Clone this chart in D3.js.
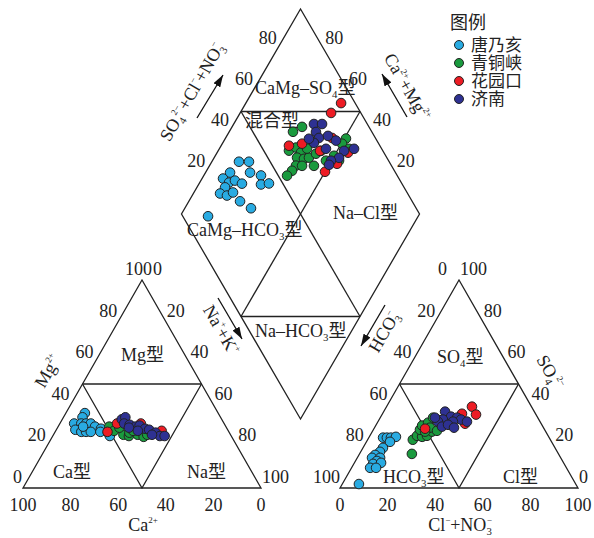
<!DOCTYPE html>
<html>
<head>
<meta charset="utf-8">
<script src="https://cdn.jsdelivr.net/npm/d3@7"></script>
<style>
  body { margin: 0; background: #fff; }
  svg text { font-family: "Liberation Serif", "Times New Roman", "Noto Sans CJK SC", serif; fill: #222; }
</style>
</head>
<body>
<script>
// series
const seriesNames = ['唐乃亥', '青铜峡', '花园口', '济南'];
const seriesColors = ['#29abe2', '#1a9a3e', '#ed1c24', '#2e3192'];

// cation triangle: [Ca%, Mg%]
const tangCation = [[56,36],[58,34],[63,31],[60,31],[58,31],[56,31],[55,29.5],[64,28],[62,27],[60,27],[58,27],[60,29.5],[53,28.5],[54,27],[51,26.5],[51,25]];
const qingCation = [[49,29.5],[48,27.5],[45,25.6],[43,25],[42,26.6],[39,25.6],[37,24.6],[35,25.6],[45,29],[40,27.5]];
const huaCation = [[45,31],[51,27],[35,31],[28,27.5]];
const jiCation = [[42,33],[40,34],[42,31],[40,30.4],[38,29.5],[36,30],[34.5,28.5],[33,28],[31,26.6],[30,25],[28,25],[41,29],[38,27.5],[33,25.6]];

// anion triangle: [Cl+NO3 %, SO4 %]
const tangAnion = [[6,24.2],[7.6,24.2],[9.3,24.2],[11.2,24.6],[9.9,22.2],[8.4,19.3],[8.1,17.4],[6.8,15.9],[6.2,14.5],[9.6,14.5],[9,13],[8.1,11.6],[11.2,12.1],[7.8,9.7],[10.3,9.7],[7,1.9]];
const qingAnion = [[22,16.4],[19,23.2],[19.8,25.1],[22.2,24.6],[24,25.1],[25.1,27.1],[19.6,28],[19.5,30],[21.3,31.4],[22.2,33.8],[24.3,32.9],[23.3,29],[27,27.5],[27,30.9],[22.2,27.1],[28.7,30.9]];
const huaAnion = [[21.5,28.5],[33.4,35.7],[35.9,39.1],[39.5,35.3],[37.1,30.9]];
const jiAnion = [[25.8,36.7],[29.5,34.3],[26.8,32.9],[25.2,31.9],[32.3,33.8],[34.4,32.9],[31.5,31.9],[28.1,29.5],[30.2,30.4],[33.4,29],[37.4,31.9],[23,33.8]];

// diamond: [Ca+Mg %, SO4+Cl+NO3 %]
const tangDiamond = [[88.6,36.9],[84.4,41.1],[81.3,38.9],[76,42.8],[89.7,30.5],[91.2,26.1],[87.7,27.6],[85.7,30.6],[82,32.8],[73.8,40.6],[70.7,44.2],[88.2,24.8],[88.8,21.2],[85.4,23.6],[83.6,26.9],[78.5,27.7],[72.2,30.6],[88.3,10.6]];
const qingDiamond = [[70.6,71.9],[73.2,66.9],[49.3,87.5],[49.7,84.6],[70.3,60.6],[68.1,64.3],[64.8,65.2],[65.2,62.3],[62,64.9],[60.2,67.3],[58.2,71.2],[63.7,59.9],[61.1,62.4],[56.1,67.4],[64.1,57],[65,53.7],[50.1,78.3],[45.5,86.3],[52.3,73.7],[56.8,74],[63.2,68.7],[46.8,79.2]];
const huaDiamond = [[60,94.1],[61.8,87.5],[71.5,61.8],[66.5,67.8],[57.2,73.6],[55.3,81.8],[45,84.9],[46.9,77.6],[50,70.6]];
const jiDiamond = [[66.3,77.6],[62.9,81],[63.5,76.5],[60.8,76.3],[57.5,80.6],[61.7,73],[55.2,76.6],[47.1,83.7],[43.4,88.4],[47.5,79.9],[50.2,75.8],[50,74],[64.8,71.9],[53,82.8]];

const ticks = [0, 20, 40, 60, 80, 100];
const diamondTicks = [20, 40, 60, 80];

const W = 594, H = 538;
const side = 238, hT = 208, baseY = 488, xL0 = 23, gap = 79;
const xR0 = xL0 + side + gap;
const dBot = { x: xL0 + side + gap / 2, y: 419 }, hD = 205;

const svg = d3.select('body').append('svg').attr('width', W).attr('height', H);

// scales
const sx = d3.scaleLinear().domain([0, 100]).range([0, side]);
const sy = d3.scaleLinear().domain([0, 100]).range([0, hT]);
const dx = d3.scaleLinear().domain([-100, 100]).range([-side / 2, side / 2]);
const dy = d3.scaleLinear().domain([0, 200]).range([0, 2 * hD]);

function cationXY(d) { const na = 100 - d[0] - d[1]; return [xL0 + sx(na + d[1] / 2), baseY - sy(d[1])]; }
function anionXY(d) { return [xR0 + sx(d[0] + d[1] / 2), baseY - sy(d[1])]; }
function diamondXY(d) { return [dBot.x + dx(d[1] - d[0]), dBot.y - dy(d[0] + d[1])]; }

const line = d3.line();
function path(pts, closed) {
  svg.append('path').attr('d', line(pts) + (closed ? 'Z' : ''))
    .attr('fill', 'none').attr('stroke', '#222').attr('stroke-width', 1.3)
    .attr('stroke-linejoin', 'miter');
}

// left triangle
const lA = [xL0, baseY], lB = [xL0 + side, baseY], lC = [xL0 + side / 2, baseY - hT];
path([lA, lB, lC], true);
path([cationXY([50, 50]), cationXY([0, 50])]);
path([cationXY([50, 50]), cationXY([50, 0]), cationXY([0, 50])]);

// right triangle
const rA = [xR0, baseY], rB = [xR0 + side, baseY], rC = [xR0 + side / 2, baseY - hT];
path([rA, rB, rC], true);
path([anionXY([0, 50]), anionXY([50, 50])]);
path([anionXY([0, 50]), anionXY([50, 0]), anionXY([50, 50])]);

// diamond
path([diamondXY([0, 0]), diamondXY([100, 0]), diamondXY([100, 100]), diamondXY([0, 100])], true);
path([diamondXY([100, 50]), diamondXY([50, 100])]);
path([diamondXY([50, 0]), diamondXY([0, 50])]);
path([diamondXY([100, 50]), diamondXY([0, 50])]);
path([diamondXY([50, 100]), diamondXY([50, 0])]);

// rich text helper: parts = [[text, 'n'|'sub'|'sup'], ...]
function rich(x, y, parts, opts) {
  opts = opts || {};
  const fs = opts.size || 18;
  const t = svg.append('text').attr('x', x).attr('y', y)
    .attr('font-size', fs).attr('text-anchor', opts.anchor || 'start');
  if (opts.rotate) t.attr('transform', `rotate(${opts.rotate},${x},${y})`);
  let shift = 0;
  parts.forEach(p => {
    const target = p[1] === 'sub' ? 4 : p[1] === 'sup' ? -8 : 0;
    const sp = t.append('tspan').text(p[0]).attr('dy', target - shift);
    if (p[1] !== 'n') sp.attr('font-size', p[1] === 'sub' ? fs * 0.6 : fs * 0.5);
    if (p[2]) sp.attr('dx', p[2]);
    shift = target;
  });
  return t;
}

// tick labels
const tl = (x, y, v, anchor) => svg.append('text').attr('x', x).attr('y', y)
  .attr('font-size', 18).attr('text-anchor', anchor).text(v);

ticks.forEach(v => {
  // Mg (left edge, left triangle)
  let p = [xL0 + sx(v / 2), baseY - sy(v)];
  tl(p[0] + (v === 100 ? 10 : -1), p[1] - 5, v, 'end');
  // Na+K (right edge, left triangle)
  p = [lC[0] + sx(v / 2), lC[1] + sy(v)];
  tl(p[0] + (v === 0 ? 11 : 1), p[1] - 5, v, 'start');
  // Ca (base)
  tl(xL0 + sx(100 - v), 511, v, 'middle');
  // HCO3 (left edge, right triangle)
  p = [rC[0] - sx(v / 2), rC[1] + sy(v)];
  tl(p[0] + (v === 0 ? -12 : 0), p[1] - 5, v, 'end');
  // SO4 (right edge, right triangle)
  p = [rB[0] - sx(v / 2), rB[1] - sy(v)];
  tl(p[0] + 1, p[1] - 5, v, 'start');
  // Cl+NO3 (base)
  tl(xR0 + sx(v), 511, v, 'middle');
});

diamondTicks.forEach(v => {
  let p = diamondXY([100, v]);
  tl(p[0], p[1] - 6, v, 'end');
  p = diamondXY([v, 100]);
  tl(p[0] + 1, p[1] - 6, v, 'start');
});

// region labels
rich(255, 94, [['CaMg–SO', 'n'], ['4', 'sub'], ['型', 'n']]);
rich(245, 127, [['混合型', 'n']]);
rich(187, 236, [['CaMg–HCO', 'n'], ['3', 'sub'], ['型', 'n']]);
rich(333, 219, [['Na–Cl型', 'n']]);
rich(255, 337, [['Na–HCO', 'n'], ['3', 'sub'], ['型', 'n']]);
rich(121, 361, [['Mg型', 'n']]);
rich(53, 478, [['Ca型', 'n']]);
rich(187, 478, [['Na型', 'n']]);
rich(437, 363, [['SO', 'n'], ['4', 'sub'], ['型', 'n']]);
rich(383, 483, [['HCO', 'n'], ['3', 'sub'], ['型', 'n']]);
rich(503, 483, [['Cl型', 'n']]);

// axis titles
rich(143, 531, [['Ca', 'n'], ['2+', 'sup']], { anchor: 'middle' });
rich(460, 531, [['Cl', 'n'], ['−', 'sup'], ['+NO', 'n'], ['3', 'sub'], ['−', 'sup', -5]], { anchor: 'middle' });
rich(53, 374, [['Mg', 'n'], ['2+', 'sup']], { anchor: 'middle', rotate: -60 });
rich(197, 95, [['SO', 'n'], ['4', 'sub'], ['2−', 'sup', -2], ['+Cl', 'n'], ['−', 'sup'], ['+NO', 'n'], ['3', 'sub'], ['−', 'sup', -5]], { anchor: 'middle', rotate: -60 });
rich(402, 90, [['Ca', 'n'], ['2+', 'sup'], ['+Mg', 'n'], ['2+', 'sup']], { anchor: 'middle', rotate: 60 });
rich(216, 333, [['Na', 'n'], ['+', 'sup'], ['+K', 'n'], ['+', 'sup']], { anchor: 'middle', rotate: 60 });
rich(389, 335, [['HCO', 'n'], ['3', 'sub'], ['−', 'sup', -5]], { anchor: 'middle', rotate: -60 });
rich(545, 375, [['SO', 'n'], ['4', 'sub'], ['2−', 'sup', -2]], { anchor: 'middle', rotate: 60 });

// arrows
svg.append('defs').append('marker').attr('id', 'arr')
  .attr('viewBox', '0 0 12 8').attr('refX', 12).attr('refY', 4)
  .attr('markerWidth', 12).attr('markerHeight', 8)
  .attr('markerUnits', 'userSpaceOnUse').attr('orient', 'auto')
  .append('path').attr('d', 'M0,0L12,4L0,8Z').attr('fill', '#111');
[[[197, 118], [223, 75]], [[407, 117], [382, 74]], [[218, 298], [242, 339]], [[385, 305], [361, 346]]]
  .forEach(a => svg.append('path').attr('d', line(a)).attr('stroke', '#111')
    .attr('stroke-width', 1.3).attr('marker-end', 'url(#arr)'));

// points
const pointSets = [
  [tangCation, tangAnion, tangDiamond],
  [qingCation, qingAnion, qingDiamond],
  [huaCation, huaAnion, huaDiamond],
  [jiCation, jiAnion, jiDiamond]
];
const fns = [cationXY, anionXY, diamondXY];
pointSets.forEach((sets, i) => {
  sets.forEach((data, k) => {
    svg.append('g').selectAll('circle').data(data).enter().append('circle')
      .attr('cx', d => fns[k](d)[0]).attr('cy', d => fns[k](d)[1])
      .attr('r', 4.8).attr('fill', seriesColors[i])
      .attr('stroke', '#222').attr('stroke-width', 1);
  });
});

// legend
svg.append('text').attr('x', 450).attr('y', 29).attr('font-size', 18).text('图例');
const lg = svg.append('g').selectAll('g').data(seriesNames).enter().append('g');
lg.append('circle').attr('cx', 459).attr('cy', (d, i) => 45 + i * 18).attr('r', 4.5)
  .attr('fill', (d, i) => seriesColors[i]).attr('stroke', '#222').attr('stroke-width', 1);
lg.append('text').attr('x', 471).attr('y', (d, i) => 51 + i * 18).attr('font-size', 17).text(d => d);
</script>
</body>
</html>
